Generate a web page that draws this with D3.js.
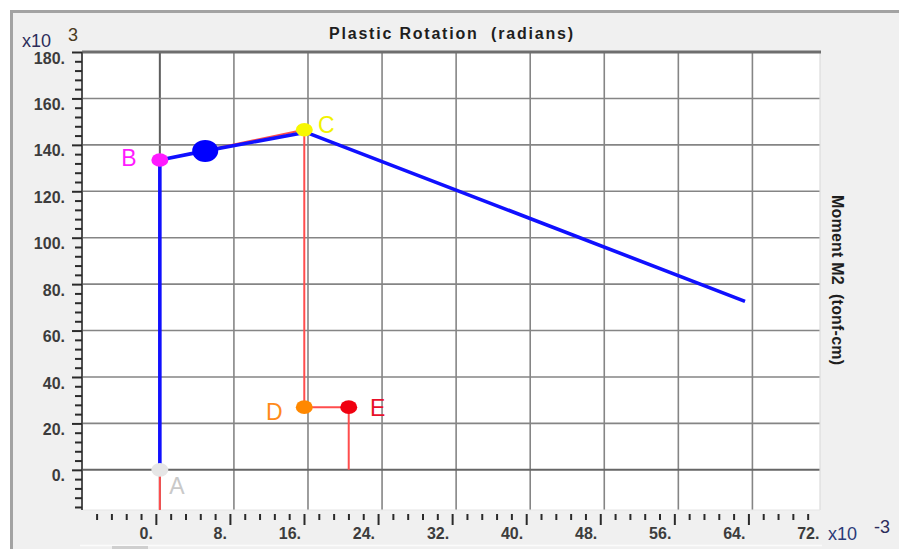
<!DOCTYPE html>
<html>
<head>
<meta charset="utf-8">
<script src="https://cdn.jsdelivr.net/npm/d3@7"></script>
<style>
  html, body { margin: 0; padding: 0; background: #ffffff; overflow: hidden; }
  svg { display: block; }
  text { white-space: pre; }
</style>
</head>
<body>
<svg id="chart" width="899" height="549"></svg>
<script>
// Plastic hinge: rotation in 1e-3 rad, moment in 1e3 tonf-cm
const backboneRot = [0, 0, 15.6, 15.6, 20.4, 20.4];
const backboneMom = [-133.5, 133.5, 146.5, 27.0, 27.0, 0];

const responseRot = [0, 0, 4.9, 15.8, 63.2];
const responseMom = [0, 133.5, 137.4, 145.4, 72.6];

const stateNames = ["A", "B", "C", "D", "E"];
const stateRot = [0, 0, 15.6, 15.6, 20.4];
const stateMom = [0, 133.5, 146.5, 27.0, 27.0];
const stateFill = ["#e6e6e6", "#ff1aff", "#f7f700", "#ff8800", "#f00010"];
const stateText = ["#c9c9c9", "#ff1aff", "#f2f200", "#ff8a1a", "#e8102a"];

const currentRot = [4.9];
const currentMom = [137.4];

const xMajorTicks = [0, 8, 16, 24, 32, 40, 48, 56, 64, 72];
const xTickLabels = ["0.", "8.", "16.", "24.", "32.", "40.", "48.", "56.", "64.", "72."];
const yMajorTicks = [0, 20, 40, 60, 80, 100, 120, 140, 160, 180];
const yTickLabels = ["0.", "20.", "40.", "60.", "80.", "100.", "120.", "140.", "160.", "180."];
const xGridTicks = [0, 8, 16, 24, 32, 40, 48, 56, 64];
const yGridTicks = [0, 20, 40, 60, 80, 100, 120, 140, 160];

const xTitle = "Plastic Rotation  (radians)";
const yTitle = "Moment M2  (tonf-cm)";

const FONT = "Liberation Sans, Arial, sans-serif";
const svg = d3.select("#chart");
const W = 899, H = 549;
const plot = { left: 83, right: 820, top: 52, bottom: 510 };

// window frame
svg.append("rect").attr("x", 0).attr("y", 0).attr("width", W).attr("height", H).attr("fill", "#ffffff");
svg.append("rect").attr("x", 12).attr("y", 12).attr("width", W - 12).attr("height", H - 12).attr("fill", "#f0f0f0");
svg.append("line").attr("x1", 10).attr("x2", W).attr("y1", 11.5).attr("y2", 11.5)
  .attr("stroke", "#a3a3a3").attr("stroke-width", 3);
svg.append("line").attr("x1", 11.5).attr("x2", 11.5).attr("y1", 10).attr("y2", H)
  .attr("stroke", "#a3a3a3").attr("stroke-width", 3);
svg.append("line").attr("x1", 80).attr("x2", 822).attr("y1", 545.5).attr("y2", 545.5)
  .attr("stroke", "#fbfbfb").attr("stroke-width", 1.5);
svg.append("rect").attr("x", 112).attr("y", 546).attr("width", 36).attr("height", 3).attr("fill", "#cfcfcf");

const x = d3.scaleLinear().domain([-8.3, 71.3]).range([plot.left, plot.right]);
const y = d3.scaleLinear().domain([-17.3, 180]).range([plot.bottom, plot.top]);

// plot background
svg.append("rect").attr("x", plot.left).attr("y", plot.top)
  .attr("width", plot.right - plot.left).attr("height", plot.bottom - plot.top)
  .attr("fill", "#ffffff");

// grid
const grid = svg.append("g");
grid.selectAll("line.gx").data(xGridTicks).join("line")
  .attr("x1", d => x(d)).attr("x2", d => x(d))
  .attr("y1", plot.top).attr("y2", plot.bottom)
  .attr("stroke", d => d === 0 ? "#5e5e5e" : "#858585")
  .attr("stroke-width", d => d === 0 ? 2 : 1.6);
grid.selectAll("line.gy").data(yGridTicks).join("line")
  .attr("x1", plot.left).attr("x2", plot.right)
  .attr("y1", d => y(d)).attr("y2", d => y(d))
  .attr("stroke", d => d === 0 ? "#666666" : "#858585")
  .attr("stroke-width", d => d === 0 ? 2 : 1.6);

// plot border
svg.append("line").attr("x1", plot.right).attr("x2", plot.right).attr("y1", plot.top).attr("y2", plot.bottom)
  .attr("stroke", "#dcdcdc").attr("stroke-width", 1.2);
svg.append("line").attr("x1", plot.left).attr("x2", plot.right).attr("y1", plot.bottom).attr("y2", plot.bottom)
  .attr("stroke", "#e6e6e6").attr("stroke-width", 1.2);
svg.append("line").attr("x1", plot.left - 1).attr("x2", plot.right + 1).attr("y1", plot.top).attr("y2", plot.top)
  .attr("stroke", "#6e6e6e").attr("stroke-width", 3);
svg.append("line").attr("x1", plot.left - 1).attr("x2", plot.left - 1).attr("y1", plot.top).attr("y2", plot.bottom)
  .attr("stroke", "#505050").attr("stroke-width", 2);

// clip for curves
svg.append("clipPath").attr("id", "plotClip").append("rect")
  .attr("x", plot.left).attr("y", plot.top)
  .attr("width", plot.right - plot.left).attr("height", plot.bottom - plot.top);

const line = d3.line().x(d => x(d[0])).y(d => y(d[1]));
const curves = svg.append("g").attr("clip-path", "url(#plotClip)");

curves.append("path")
  .datum(backboneRot.map((r, i) => [r, backboneMom[i]]))
  .attr("d", line).attr("fill", "none")
  .attr("stroke", "#ff4d4d").attr("stroke-width", 2);

curves.append("path")
  .datum(responseRot.map((r, i) => [r, responseMom[i]]))
  .attr("d", line).attr("fill", "none")
  .attr("stroke", "#1010ff").attr("stroke-width", 3.6)
  .attr("stroke-linejoin", "round");

// state markers
curves.selectAll("ellipse.state").data(stateNames).join("ellipse")
  .attr("cx", (d, i) => x(stateRot[i])).attr("cy", (d, i) => y(stateMom[i]))
  .attr("rx", 8.5).attr("ry", 6.8)
  .attr("fill", (d, i) => stateFill[i]);

// current step marker
curves.selectAll("ellipse.cur").data(currentRot).join("ellipse")
  .attr("cx", (d, i) => x(d)).attr("cy", (d, i) => y(currentMom[i]))
  .attr("rx", 13).attr("ry", 11)
  .attr("fill", "#0000ff");

// state labels
const labelOffset = { A: [17, 16], B: [-31, -2], C: [22, -5], D: [-30, 5], E: [29, 1] };
svg.selectAll("text.state").data(stateNames).join("text")
  .attr("x", (d, i) => x(stateRot[i]) + labelOffset[d][0])
  .attr("y", (d, i) => y(stateMom[i]) + labelOffset[d][1])
  .attr("dy", "0.36em")
  .attr("text-anchor", "middle")
  .attr("font-family", FONT)
  .attr("font-size", 23)
  .attr("fill", (d, i) => stateText[i])
  .text(d => d);

// x axis (ticks below the plot)
const xMinor = d3.range(-4, 45).map(k => +(k * 1.6).toFixed(1)).filter(v => xMajorTicks.indexOf(v) < 0);
const xAxisG = svg.append("g").attr("transform", `translate(-4,${plot.bottom + 4})`);
xAxisG.call(d3.axisBottom(x).tickValues(xMinor).tickSize(6).tickFormat(""))
  .call(g => g.select(".domain").remove());
xAxisG.append("g").call(d3.axisBottom(x).tickValues(xMajorTicks.filter(v => x(v) <= plot.right)).tickSize(11).tickFormat(""))
  .call(g => g.select(".domain").remove());
xAxisG.selectAll(".tick line").attr("stroke", "#2a2a2a").attr("stroke-width", 2);
xAxisG.append("g").selectAll("text").data(xMajorTicks).join("text")
  .attr("x", d => x(d) - 3).attr("y", 24.5)
  .attr("text-anchor", "end")
  .attr("font-family", FONT)
  .attr("font-size", 16).attr("font-weight", "bold")
  .attr("fill", "#3c3c3c")
  .text((d, i) => xTickLabels[i]);

// y axis (ticks left of the plot)
const yMinor = d3.range(-4, 46).map(k => k * 4).filter(v => yMajorTicks.indexOf(v) < 0);
const yAxisG = svg.append("g").attr("transform", `translate(${plot.left - 1},0)`);
yAxisG.call(d3.axisLeft(y).tickValues(yMinor).tickSize(7).tickFormat(""))
  .call(g => g.select(".domain").remove());
yAxisG.append("g").call(d3.axisLeft(y).tickValues(yMajorTicks).tickSize(10).tickFormat(""))
  .call(g => g.select(".domain").remove());
yAxisG.selectAll(".tick line").attr("stroke", "#2a2a2a").attr("stroke-width", 2);
yAxisG.append("g").selectAll("text").data(yMajorTicks).join("text")
  .attr("x", -17).attr("y", d => y(d) + 6)
  .attr("dy", "0.35em")
  .attr("text-anchor", "end")
  .attr("font-family", FONT)
  .attr("font-size", 16).attr("font-weight", "bold")
  .attr("fill", "#3c3c3c")
  .text((d, i) => yTickLabels[i]);

// titles
svg.append("text").attr("x", 451).attr("y", 39)
  .attr("text-anchor", "middle")
  .attr("font-family", FONT)
  .attr("font-size", 16).attr("font-weight", "bold").attr("fill", "#1e1e1e")
  .attr("textLength", 244).attr("lengthAdjust", "spacing")
  .text(xTitle);
svg.append("text")
  .attr("transform", "translate(832,280) rotate(90)")
  .attr("text-anchor", "middle")
  .attr("font-family", FONT)
  .attr("font-size", 16).attr("font-weight", "bold").attr("fill", "#1e1e1e")
  .attr("textLength", 170).attr("lengthAdjust", "spacing")
  .text(yTitle);

// scale multipliers
const mult = svg.append("g").attr("font-family", FONT).attr("fill", "#2c2c5a");
mult.append("text").attr("x", 22).attr("y", 47).attr("font-size", 18).text("x10");
mult.append("text").attr("x", 68).attr("y", 41).attr("font-size", 18).attr("fill", "#4a3a20").text("3");
mult.append("text").attr("x", 828).attr("y", 540).attr("font-size", 18).attr("fill", "#2a3a78").text("x10");
mult.append("text").attr("x", 874).attr("y", 533).attr("font-size", 18).text("-3");
</script>
</body>
</html>
